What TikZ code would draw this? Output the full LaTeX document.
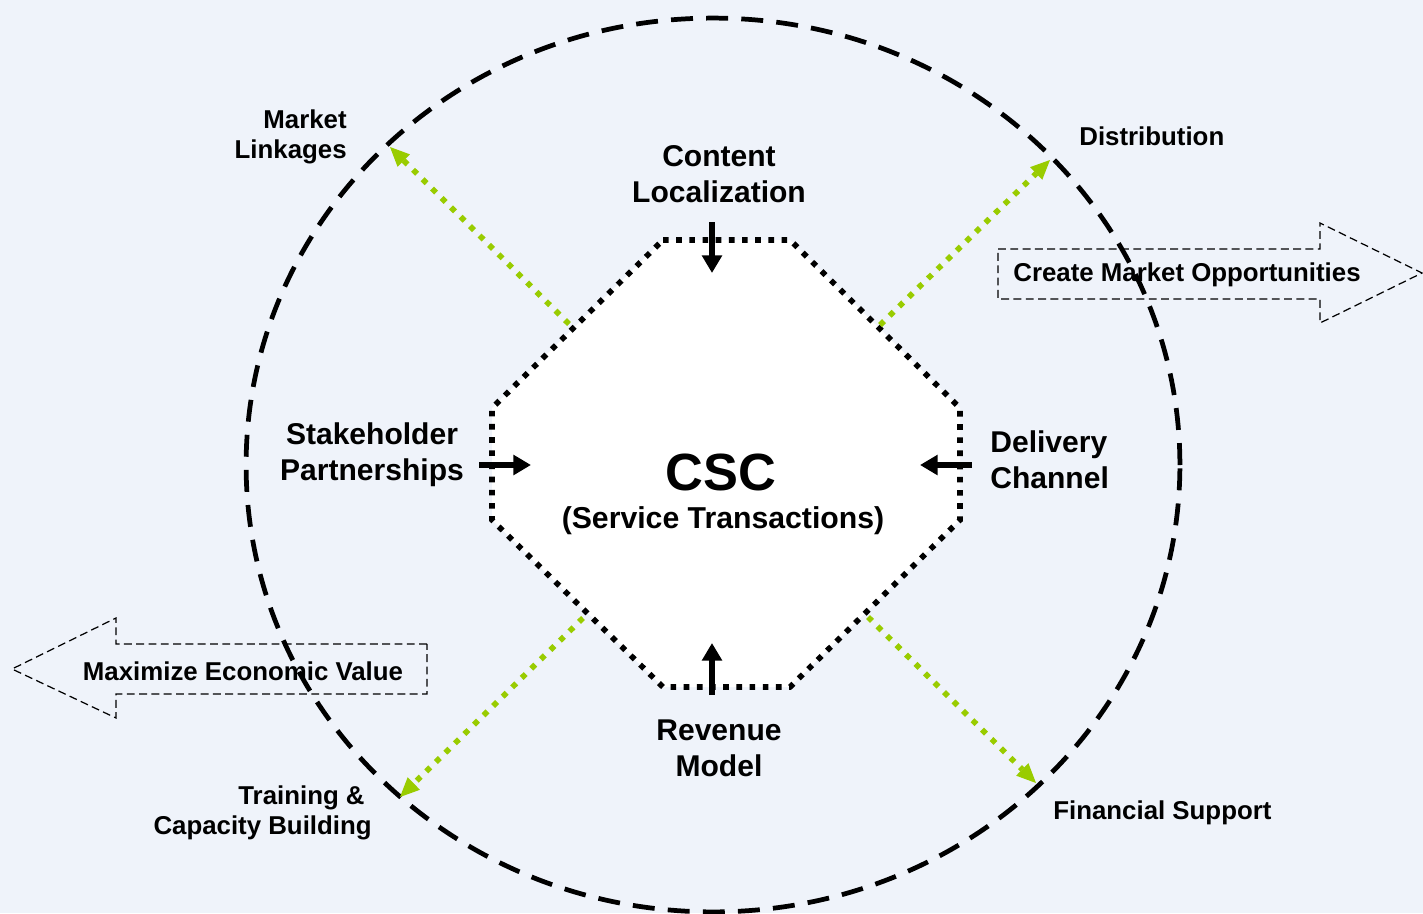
\documentclass[tikz,border=0pt]{standalone}
\usepackage{fontspec}
\setmainfont{Liberation Sans}
\usetikzlibrary{arrows.meta,calc,positioning}
\definecolor{bgblue}{HTML}{EFF3FA}
\definecolor{limegreen}{HTML}{99CC00}

\begin{document}
\begin{tikzpicture}[x=0.02cm,y=-0.02cm,
    lbl/.style={font=\fontsize{17.1}{20.5}\selectfont\bfseries,align=center,inner sep=0pt},
    smalllbl/.style={font=\fontsize{14.7}{17}\selectfont\bfseries,inner sep=0pt},
    push/.style={line width=3.1pt,-{Triangle[length=10pt,width=11pt]}},
    spoke/.style={limegreen,line width=3.2pt,dash pattern=on 3.2pt off 4.4pt,-{Triangle[length=11pt,width=10pt,line width=0pt]}},
    bigarrow/.style={line width=0.7pt,dash pattern=on 4.5pt off 2.5pt},
    ring/.style={line width=2.7pt,dash pattern=on 12.5pt off 7.5pt}]
    \useasboundingbox (0,0) rectangle (1423,913);
    \fill[bgblue] (0,0) rectangle (1423,913);

    % big outlined arrows
    \draw[bigarrow] (998,249) -- (1320,249) -- (1320,223) -- (1422,273)
        -- (1320,323) -- (1320,299) -- (998,299) -- cycle;
    \node[smalllbl] (cmo) at (1187,275) {Create Market Opportunities};
    \draw[bigarrow] (427,644) -- (116,644) -- (116,618) -- (12,669)
        -- (116,718) -- (116,694) -- (427,694) -- cycle;
    \node[smalllbl] (mev) at (243,671) {Maximize Economic Value};

    % outer ring
    \draw[ring] (713,465) ellipse [x radius=9.34cm,y radius=8.94cm];

    % octagon
    \coordinate (A) at (663,240);
    \coordinate (B) at (790,240);
    \coordinate (C) at (960,408);
    \coordinate (D) at (960,520);
    \coordinate (E) at (790,687);
    \coordinate (F) at (663,687);
    \coordinate (G) at (492,520);
    \coordinate (H) at (492,408);
    \fill[white] (A)--(B)--(C)--(D)--(E)--(F)--(G)--(H)--cycle;
    \draw[line width=3.2pt,dash pattern=on 3.2pt off 4.3pt]
        (A)--(B)--(C)--(D)--(E)--(F)--(G)--(H)--cycle;

    % green spokes
    \coordinate (nw) at (569,324);
    \coordinate (ne) at (880,325);
    \coordinate (sw) at (583,618);
    \coordinate (se) at (868,617);
    \coordinate (nwR) at (390,147);
    \coordinate (neR) at (1050,160);
    \coordinate (swR) at (400,797);
    \coordinate (seR) at (1036,783);
    \draw[spoke] (nw) -- (nwR);
    \draw[spoke] (ne) -- (neR);
    \draw[spoke] (sw) -- (swR);
    \draw[spoke] (se) -- (seR);

    % black arrows
    \coordinate (topS) at (712,222);
    \coordinate (topE) at (712,273);
    \coordinate (botS) at (712,695);
    \coordinate (botE) at (712,643);
    \coordinate (lftS) at (479,465);
    \coordinate (lftE) at (531,465);
    \coordinate (rgtS) at (972,465);
    \coordinate (rgtE) at (920,465);
    \draw[push] (topS) -- (topE);
    \draw[push] (botS) -- (botE);
    \draw[push] (lftS) -- (lftE);
    \draw[push] (rgtS) -- (rgtE);

    % labels
    \node[lbl] (csc) at (721,472) {\fontsize{29.8}{32}\selectfont CSC};
    \node[lbl] (srv) at (723,521) {\fontsize{17.2}{20}\selectfont (Service Transactions)};
    \node[lbl] (content) at (719,174) {Content\\Localization};
    \node[lbl] (stake) at (372,455) {Stakeholder\\Partnerships};
    \node[lbl,align=left,anchor=west] (deliv) at (990,460) {Delivery\\Channel};
    \node[lbl] (revenue) at (719,748) {Revenue\\Model};
    \node[smalllbl,align=right,anchor=east] (mlink) at (347,137) {Market\\Linkages};
    \node[smalllbl,anchor=west] (distr) at (1079,136) {Distribution};
    \node[smalllbl,align=right,anchor=east] (train) at (372,813) {Training \&\hspace*{4pt}\\Capacity Building};
    \node[smalllbl,anchor=west] (finsup) at (1053,813) {Financial Support};
\end{tikzpicture}
\end{document}
